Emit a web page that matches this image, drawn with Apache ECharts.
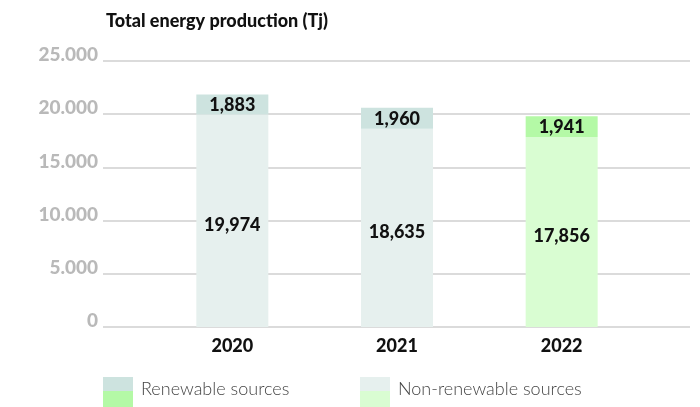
<!DOCTYPE html>
<html><head><meta charset="utf-8">
<script src="https://cdn.jsdelivr.net/npm/echarts@6/dist/echarts.min.js"></script>
<style>html,body{margin:0;padding:0;background:#fff}#c{width:700px;height:407px}</style>
</head><body><div id="c"></div>
<script>
const years = ['2020', '2021', '2022'];
const renewable = [1883, 1960, 1941];
const nonRenewable = [19974, 18635, 17856];
const yTicks = [0, 5000, 10000, 15000, 20000, 25000];

const renColors = ['#cde3df', '#cde3df', '#b4f9a6'];
const nonColors = ['#e6f0ee', '#e6f0ee', '#d9fdd2'];
const FONT = 'Lato, "Open Sans", sans-serif';

const chart = echarts.init(document.getElementById('c'));
const fmtDot = v => String(v).replace(/\B(?=(\d{3})+(?!\d))/g, '.');
const fmtComma = v => String(v).replace(/\B(?=(\d{3})+(?!\d))/g, ',');

chart.setOption({
  animation: false,
  title: {text: 'Total energy production (Tj)', left: 101, top: 7,
    textStyle: {fontFamily: FONT, fontWeight: 900, fontSize: 18, color: '#111'}},
  grid: [
    {left: 103, right: 10, top: 61, bottom: 80},
    {left: 150, right: 56, top: 61, bottom: 80}
  ],
  xAxis: [
    {type: 'category', gridIndex: 0, data: years, show: false},
    {type: 'category', gridIndex: 1, data: years,
     axisLine: {show: false}, axisTick: {show: false},
     axisLabel: {margin: 10, fontFamily: FONT, fontWeight: 900, fontSize: 18, color: '#111'}}
  ],
  yAxis: [
    {type: 'value', gridIndex: 0, min: yTicks[0], max: yTicks[yTicks.length-1], interval: 5000,
     axisLine: {show: false}, axisTick: {show: false},
     splitLine: {lineStyle: {color: '#cfcfcf', width: 1.5}},
     axisLabel: {margin: 5, formatter: fmtDot, fontFamily: FONT, fontWeight: 900, fontSize: 19, color: '#b9b9b9',
       verticalAlign: 'bottom', lineHeight: 12}},
    {type: 'value', gridIndex: 1, min: yTicks[0], max: yTicks[yTicks.length-1], interval: 5000, show: false}
  ],
  series: [
    {type: 'bar', name: 'Non-renewable sources', stack: 's', xAxisIndex: 1, yAxisIndex: 1, barWidth: 72,
     data: nonRenewable.map((v, i) => ({value: v, itemStyle: {color: nonColors[i]}})),
     label: {show: true, position: 'inside', offset: [0, 4], formatter: p => fmtComma(p.value),
       fontFamily: FONT, fontWeight: 900, fontSize: 18, color: '#111'}},
    {type: 'bar', name: 'Renewable sources', stack: 's', xAxisIndex: 1, yAxisIndex: 1, barWidth: 72,
     data: renewable.map((v, i) => ({value: v, itemStyle: {color: renColors[i]}})),
     label: {show: true, position: 'inside', offset: [0, 1], formatter: p => fmtComma(p.value),
       fontFamily: FONT, fontWeight: 900, fontSize: 18, color: '#111'}}
  ],
  graphic: [
    {type: 'rect', left: 103, top: 377, shape: {width: 30, height: 14}, style: {fill: '#cde3df'}},
    {type: 'rect', left: 103, top: 391, shape: {width: 30, height: 16}, style: {fill: '#b4f9a6'}},
    {type: 'text', left: 141, top: 380, style: {text: 'Renewable sources', font: '300 18px ' + FONT, fill: '#444'}},
    {type: 'rect', left: 360, top: 377, shape: {width: 30, height: 14}, style: {fill: '#e6f0ee'}},
    {type: 'rect', left: 360, top: 391, shape: {width: 30, height: 16}, style: {fill: '#d9fdd2'}},
    {type: 'text', left: 398, top: 380, style: {text: 'Non-renewable sources', font: '300 18px ' + FONT, fill: '#444'}}
  ]
});
</script></body></html>
